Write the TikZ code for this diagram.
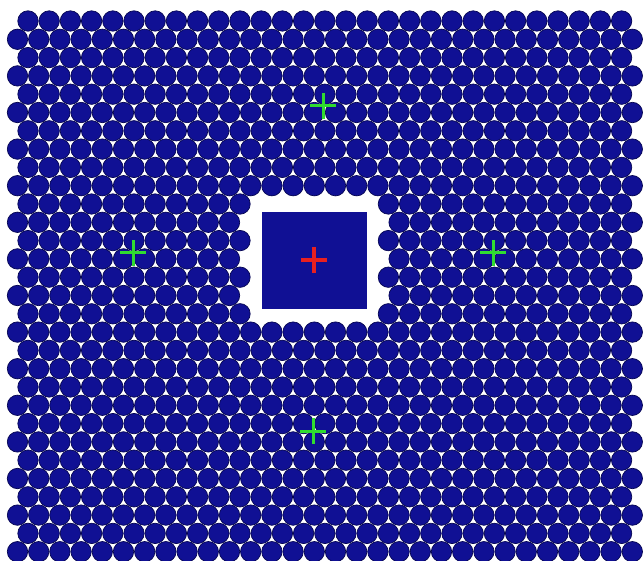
\documentclass[tikz,border=0pt]{standalone}
\usepackage{tikz}
\definecolor{cdisc}{HTML}{101094}
\definecolor{cedge}{HTML}{050552}
\definecolor{cgreen}{HTML}{30DC30}
\definecolor{cred}{HTML}{E82020}
\tikzset{
 disc/.style={fill=cdisc, draw=cedge, line width=0.7pt},
 hole/.style={fill=cdisc, draw=none},
 gcross/.style={draw=cgreen, line width=3pt},
 rcross/.style={draw=cred, line width=3.2pt},
}
% plus sign of half size 13 at a named point
\newcommand{\plusmark}[2]{\draw[#2] (#1) ++(-13,0) -- ++(26,0) (#1) ++(0,-13) -- ++(0,26);}

\begin{document}
\begin{tikzpicture}[x=1pt,y=-1pt]
 \useasboundingbox (0,0) rectangle (643,561);
 % packed discs, rows alternate by half a pitch
 \foreach \n in {0,...,29}{
  \pgfmathsetmacro\rowy{21+18.3*\n}
  \pgfmathsetmacro\rowx{isodd(\n) ? 17.5 : 28}
  \pgfmathtruncatemacro\kmax{isodd(\n) ? 29 : 28}
  \foreach \k in {0,...,\kmax}{
   \pgfmathsetmacro\cx{\rowx+21.2*\k}
   \pgfmathtruncatemacro\inhole{(abs(\cx-314)<68) && (abs(\rowy-259)<64)}
   \ifnum\inhole=0 \filldraw[disc] (\cx,\rowy) circle (10.2pt); \fi
  }
 }
 % the block in the middle
 \fill[hole] (262,212) rectangle (367,309);
 % marks
 \coordinate (ctr) at (314,260);
 \coordinate (top) at (323,106);
 \coordinate (lft) at (133,253);
 \coordinate (rgt) at (493,253);
 \coordinate (bot) at (313,431);
 \plusmark{ctr}{rcross}
 \foreach \p in {top,lft,rgt,bot}{\plusmark{\p}{gcross}}
\end{tikzpicture}
\end{document}
